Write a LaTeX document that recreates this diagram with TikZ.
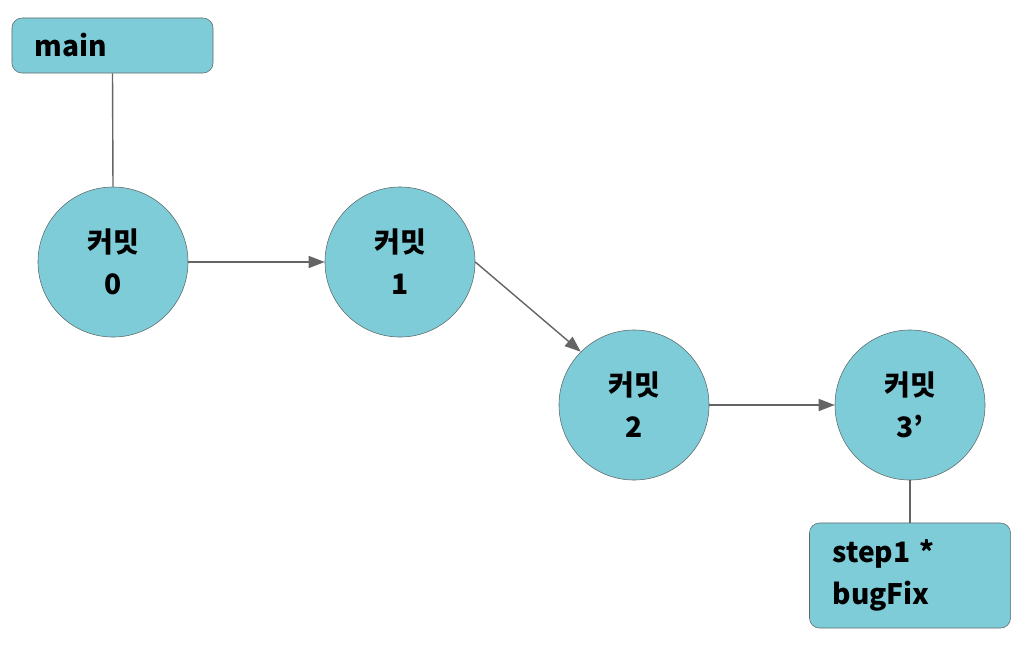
\documentclass[tikz,border=0pt]{standalone}
\usepackage{fontspec}
\setmainfont{Noto Sans CJK KR}
\usepackage{xcolor}
\usetikzlibrary{arrows.meta}
\definecolor{commitfill}{RGB}{126,204,216}
\definecolor{edgegray}{RGB}{95,105,108}
\definecolor{arrowgray}{RGB}{100,100,100}

\begin{document}
\begin{tikzpicture}[x=0.025cm, y=-0.025cm,
    commit/.style={circle, draw=edgegray, fill=commitfill, minimum size=3.75cm, inner sep=0pt,
        align=center, font=\fontsize{20}{30}\selectfont\bfseries},
    branchbox/.style={draw=edgegray, fill=commitfill, rounded corners=0.25cm, inner xsep=0.575cm,
        align=left, text width=3.875cm, font=\fontsize{20}{30}\selectfont\bfseries},
    link/.style={draw=arrowgray, line width=1pt},
    flow/.style={link, -{Triangle[length=0.4cm, width=0.3cm]}}]
    \useasboundingbox (0,0) rectangle (1036,658);
    % branch labels
    \node[branchbox, minimum height=1.375cm] (main) at (112.5,45.5) {main};
    \node[branchbox, minimum height=2.625cm] (step) at (910,575.5) {step1 *\\bugFix};
    % commits
    \node[commit] (c0) at (113,262) {커밋\\0};
    \node[commit] (c1) at (400,262) {커밋\\1};
    \node[commit] (c2) at (634,405) {커밋\\2};
    \node[commit] (c3) at (910,405) {커밋\\3’};
    % connectors
    \draw[link] (main.south) -- (c0.north);
    \draw[link] (c3.south) -- (step.north);
    \draw[flow] (c0.east) -- (c1.west);
    \draw[flow] (c1.east) -- (c2.135);
    \draw[flow] (c2.east) -- (c3.west);
\end{tikzpicture}
\end{document}
